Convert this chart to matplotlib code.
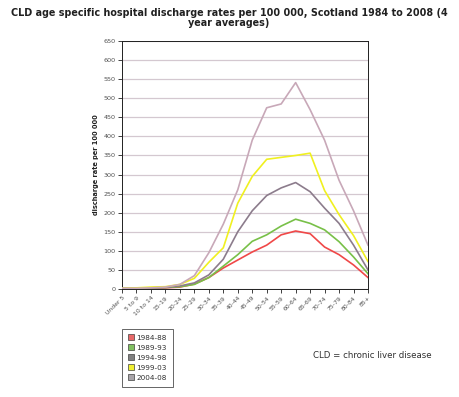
import matplotlib
matplotlib.use("Agg")
import matplotlib.pyplot as plt
from matplotlib.lines import Line2D

categories = ["Under 5", "5 to 9", "10 to 14", "15-19", "20-24", "25-29", "30-34",
              "35-39", "40-44", "45-49", "50-54", "55-59", "60-64", "65-69",
              "70-74", "75-79", "80-84", "85+"]
s_1984_88 = [1, 1, 2, 3, 5, 13, 30, 55, 76, 97, 115, 142, 152, 145, 110, 90, 63, 30]
s_1989_93 = [2, 2, 3, 4, 6, 12, 30, 60, 90, 125, 142, 165, 183, 172, 155, 124, 84, 40]
s_1994_98 = [2, 2, 3, 4, 8, 16, 37, 78, 150, 205, 245, 265, 279, 255, 212, 172, 115, 50]
s_1999_03 = [2, 3, 5, 6, 12, 28, 70, 108, 225, 295, 340, 345, 350, 356, 258, 195, 140, 72]
s_2004_08 = [2, 2, 3, 5, 12, 35, 95, 170, 260, 390, 475, 485, 541, 470, 390, 285, 205, 115]
series_labels = ["1984-88", "1989-93", "1994-98", "1999-03", "2004-08"]
y_ticks = list(range(0, 651, 50))

series = [s_1984_88, s_1989_93, s_1994_98, s_1999_03, s_2004_08]
line_colors = ["#f04848", "#78c048", "#8c7c8c", "#f0f020", "#c8a8b8"]
legend_colors = ["#e86868", "#80c060", "#808080", "#f0f030", "#a8a4a8"]

W, H = 459, 397
fig = plt.figure(figsize=(W / 100, H / 100), dpi=100)
fig.patch.set_facecolor("white")

L, R, T, B = 122, 368, 41, 289
ax = fig.add_axes([L / W, 1 - B / H, (R - L) / W, (B - T) / H])

x = list(range(len(categories)))
for vals, c in zip(series, line_colors):
    ax.plot(x, vals, color=c, lw=1.2, zorder=3)

ax.set_xlim(0, len(categories) - 1)
ax.set_ylim(0, 650)
ax.set_yticks(y_ticks)
ax.set_yticklabels([str(v) for v in y_ticks], fontsize=4.6, color="#505050")
ax.set_xticks(x)
ax.set_xticklabels(categories, fontsize=4.4, color="#505050", rotation=45,
                   ha="right", rotation_mode="anchor")
ax.tick_params(axis="both", length=3, width=0.6, pad=1.5, color="#202020")
ax.grid(axis="y", color="#d4c8d0", lw=0.9, zorder=0)
for sp in ax.spines.values():
    sp.set_linewidth(0.7)
    sp.set_color("#202020")

fig.text(96 / W, 1 - 165 / H, "discharge rate per 100 000", rotation=90,
         fontsize=4.8, fontweight="bold", color="#202020", ha="center", va="center")

fig.text(229 / W, 1 - 18.5 / H,
         "CLD age specific hospital discharge rates per 100 000, Scotland 1984 to 2008 (4\nyear averages)",
         fontsize=6.9, fontweight="bold", ha="center", va="center", linespacing=1.0,
         color="#202020")

handles = [Line2D([], [], ls="none", marker="s", markersize=4, markerfacecolor=c,
                  markeredgecolor="#404040", markeredgewidth=0.5)
           for c in legend_colors]
leg = fig.legend(handles, series_labels, loc="upper left",
                 bbox_to_anchor=(122 / W, 1 - 329 / H), fontsize=5.2, frameon=True,
                 fancybox=False, edgecolor="#202020", handlelength=0.8,
                 handletextpad=0.4, borderpad=0.8, labelspacing=0.55,
                 borderaxespad=0)
leg.get_frame().set_linewidth(0.6)
for t in leg.get_texts():
    t.set_color("#303030")

fig.text(313 / W, 1 - 355 / H, "CLD = chronic liver disease", fontsize=6.2,
         color="#303030", ha="left", va="center")

fig.savefig("out.png", dpi=100)
